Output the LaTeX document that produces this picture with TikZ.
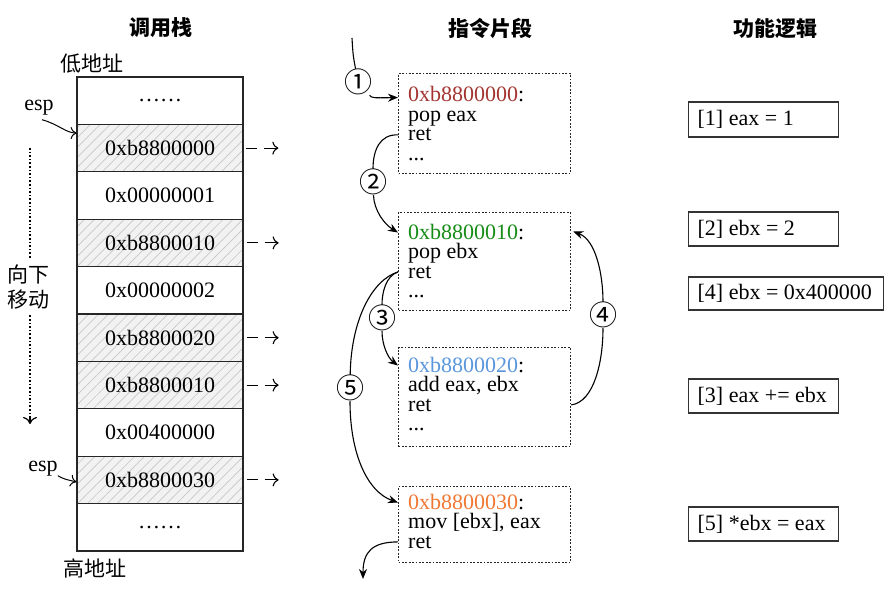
\documentclass[tikz,border=0pt]{standalone}
\usepackage{fontspec}
\setmainfont{Liberation Serif}
\newfontfamily\cjk{Noto Sans CJK SC}
\usetikzlibrary{arrows.meta,patterns.meta,calc}
\definecolor{adred}{RGB}{163,52,48}
\definecolor{adgreen}{RGB}{22,140,22}
\definecolor{adblue}{RGB}{90,150,220}
\definecolor{adorange}{RGB}{240,120,50}
\newcommand\enf{\fontsize{22}{19.5}\selectfont}
\newcommand\cjkf{\cjk\fontsize{21}{21}\selectfont}
\newcommand\circf{\cjk\fontsize{28}{28}\selectfont}
\newcommand\lbox[2]{\makebox[#1][l]{#2}}
\begin{document}
\begin{tikzpicture}[x=1pt,y=-1pt,
  cell/.style={draw=black!85, line width=1.3pt, minimum width=166pt, minimum height=47.4pt, inner sep=0pt, font=\enf},
  hcell/.style={cell, preaction={fill=black!5}, pattern={Lines[angle=45,distance=7pt,line width=0.7pt]}, pattern color=black!22},
  darr/.style={line width=1.1pt, dash pattern=on 11pt off 7pt on 30pt, -{To[length=6pt,width=13pt]}},
  sarr/.style={line width=1pt, -{To[length=6pt,width=12pt]}},
  dbox/.style={draw=black!85, line width=1.2pt, dash pattern=on 1.8pt off 1.6pt, inner sep=0pt, anchor=north west, minimum width=172pt},
  ln/.style={anchor=base west, inner sep=0pt, font=\enf},
  fbox/.style={draw=black!80, line width=1.3pt, minimum height=34pt, inner xsep=9pt, inner ysep=0pt, font=\enf, anchor=west},
  circ/.style={font=\circf, fill=white, inner sep=0pt},
  ttl/.style={font=\cjkf\bfseries},
  cj/.style={font=\cjkf, inner sep=0pt},
  mline/.style={line width=1.1pt},
  marr/.style={line width=1.1pt, -{Stealth[length=10pt,width=8pt]}}]
\useasboundingbox (0,0) rectangle (892,591);

% titles
\node[ttl] (t1) at (161,28) {调用栈};
\node[ttl] (t2) at (490,28) {指令片段};
\node[ttl] (t3) at (775,29) {功能逻辑};

% stack
\node[cj] (lo) at (92,64) {低地址};
\node[cj] (hi) at (95,568) {高地址};
\node[cell]  (c0) at (160,100.7) {……};
\node[hcell] (c1) at (160,148.1) {0xb8800000};
\node[cell]  (c2) at (160,195.5) {0x00000001};
\node[hcell] (c3) at (160,242.9) {0xb8800010};
\node[cell]  (c4) at (160,290.3) {0x00000002};
\node[hcell] (c5) at (160,337.7) {0xb8800020};
\node[hcell] (c6) at (160,385.1) {0xb8800010};
\node[cell]  (c7) at (160,432.5) {0x00400000};
\node[hcell] (c8) at (160,479.9) {0xb8800030};
\node[cell]  (c9) at (160,527.3) {……};
\foreach \c in {c1,c3,c5,c6,c8}
  \draw[darr] ($(\c.east)+(3,0)$) -- ++(32,0);

% esp markers
\node[font=\enf, inner sep=0pt] (esp1) at (39,108) {esp};
\draw[sarr] ($(esp1.south)+(3,4)$) .. controls (58,124) and (66,133) .. ($(c1.north west)+(0,9)$);
\node[font=\enf, inner sep=0pt] (esp2) at (43,469) {esp};
\draw[sarr] ($(esp2.south east)+(0,-1)$) .. controls (64,479) .. ($(c8.west)+(0,2)$);

% moving direction
\coordinate (mvtop) at (30,148);
\node[cj, align=center] (mv) at (29,287) {向下\\[4pt]移动};
\coordinate (mvbot) at (30,424);
\coordinate (mvtip) at (30,416);
\draw[line width=1.4pt, dash pattern=on 1.6pt off 2pt] (mvtop) -- ($(mv.north)+(1,-6)$);
\draw[line width=1.4pt, dash pattern=on 1.6pt off 2pt] ($(mv.south)+(1,6)$) -- (mvtip);
\draw[line width=1.2pt, -{To[length=7pt,width=14pt]}] (mvtip) -- (mvbot);

% instruction fragments
\node[dbox, minimum height=100pt] (b1) at (398,73) {};
\node[ln, text=adred] (a1) at (408,102) {0xb8800000\textcolor{black}{:}};
\node[ln] (p1) at (408,121.5) {pop eax};
\node[ln] (r1) at (408,141) {ret};
\node[ln] (d1) at (408,160.5) {...};

\node[dbox, minimum height=98pt] (b2) at (398,212) {};
\node[ln, text=adgreen] (a2) at (408,239) {0xb8800010\textcolor{black}{:}};
\node[ln] (p2) at (408,258.5) {pop ebx};
\node[ln] (r2) at (408,278) {ret};
\node[ln] (d2) at (408,297.5) {...};

\node[dbox, minimum height=99pt] (b3) at (398,347) {};
\node[ln, text=adblue] (a3) at (408,372) {0xb8800020\textcolor{black}{:}};
\node[ln] (p3) at (408,391.5) {add eax, ebx};
\node[ln] (r3) at (408,411) {ret};
\node[ln] (d3) at (408,430.5) {...};

\node[dbox, minimum height=76pt] (b4) at (398,486) {};
\node[ln, text=adorange] (a4) at (408,509) {0xb8800030\textcolor{black}{:}};
\node[ln] (p4) at (408,528.5) {mov [ebx], eax};
\node[ln] (r4) at (408,548) {ret};

% flow connectors
\coordinate (s1) at (352,38);
\node[circ] (n1) at (358,82) {①};
\node[circ] (n2) at (373,182) {②};
\node[circ] (n3) at (382,318) {③};
\node[circ] (n4) at (603,315) {④};
\node[circ] (n5) at (350,388) {⑤};
\coordinate (e1) at (363,579);

\draw[mline] (s1) .. controls (353,55) .. (n1);
\draw[marr] (n1) .. controls (372,98) .. ($(b1.west |- a1.center)+(0,3)$);

\draw[mline] (b1.west |- r1.center) .. controls (380,134) and (373,150) .. (n2);
\draw[marr] (n2) .. controls (374,210) and (384,224) .. ($(b2.west |- a2.center)+(0,1)$);

\draw[mline] (b2.west |- r2.center) .. controls (386,276) and (382,292) .. (n3);
\draw[marr] (n3) .. controls (382,345) and (388,358) .. ($(b3.west |- a3.center)+(0,1)$);

\draw[mline] (b2.west |- r2.center) .. controls (372,280) and (351,320) .. (n5);
\draw[marr] (n5) .. controls (350,455) and (368,492) .. ($(b4.west |- a4.center)+(0,1)$);

\draw[mline] (b3.east |- r3.center) .. controls (594,402) and (603,362) .. (n4);
\draw[marr] (n4) .. controls (603,275) and (596,240) .. ($(b2.east |- a2.center)+(2,0)$);

\draw[marr] (b4.west |- r4.center) .. controls (372,542) and (363,552) .. (e1);

% functional logic
\node[fbox, minimum height=35pt] (f1) at (688,119.5) {\lbox{132pt}{[1] eax = 1}};
\node[fbox] (f2) at (688,229) {\lbox{132pt}{[2] ebx = 2}};
\node[fbox, minimum height=33pt] (f4) at (688,293.5) {\lbox{177pt}{[4] ebx = 0x400000}};
\node[fbox] (f3) at (688,396) {\lbox{132pt}{[3] eax += ebx}};
\node[fbox] (f5) at (688,524) {\lbox{132pt}{[5] *ebx = eax}};
\end{tikzpicture}
\end{document}
